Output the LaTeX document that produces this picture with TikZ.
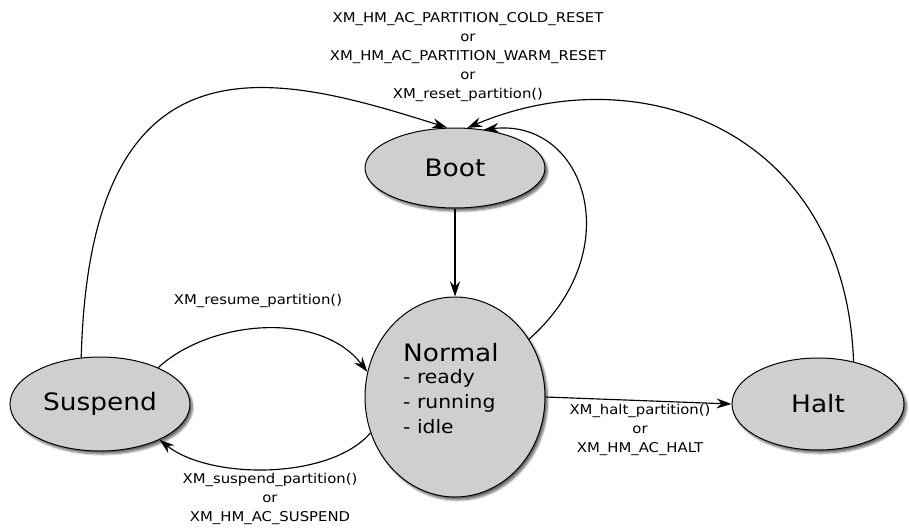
\documentclass[tikz,border=0pt]{standalone}
\usepackage{fontspec}
\setmainfont[FakeStretch=1.1]{DejaVu Sans}
\usetikzlibrary{shapes.geometric,arrows.meta,shadows.blur}
\tikzset{
  state/.style={ellipse, draw=black, line width=1pt, fill=black!19, inner sep=0pt,
    blur shadow={shadow xshift=2.5pt, shadow yshift=-3pt, shadow blur steps=6, shadow opacity=60},
    font=\fontsize{24}{28}\selectfont},
  lbl/.style={align=center, inner sep=0pt, font=\fontsize{13.5}{19}\selectfont},
  conn/.style={line width=1.15pt, -{Stealth[length=15pt,width=10pt,inset=5pt]}}
}
\begin{document}
\begin{tikzpicture}[x=1pt,y=1pt]
\useasboundingbox (0,0) rectangle (909,-530);
\node[state, minimum width=180pt, minimum height=80pt] (boot) at (455,-168) {Boot};
\node[state, minimum width=180pt, minimum height=200pt] (normal) at (455,-397) {};
\node[align=left, inner sep=0pt, anchor=north west, font=\fontsize{18.5}{25}\selectfont] (ntext) at (403,-343)
  {\fontsize{24}{28}\selectfont Normal\\[-3pt]
   \fontsize{18.5}{25}\selectfont - ready\\ - running\\ - idle};
\node[state, minimum width=180pt, minimum height=94pt] (suspend) at (100,-404) {Suspend};
\node[state, minimum width=172pt, minimum height=92pt] (halt) at (818,-404) {Halt};

\node[lbl] (ltop) at (468,-57) {XM\_HM\_AC\_PARTITION\_COLD\_RESET\\or\\XM\_HM\_AC\_PARTITION\_WARM\_RESET\\or\\XM\_reset\_partition()};
\node[lbl] (lres) at (258,-301) {XM\_resume\_partition()};
\node[lbl] (lhalt) at (640,-430) {XM\_halt\_partition()\\or\\XM\_HM\_AC\_HALT};
\node[lbl] (lsus) at (270,-499) {XM\_suspend\_partition()\\or\\XM\_HM\_AC\_SUSPEND};

\draw[conn] (boot.south) -- (normal.north);
\draw[conn] (suspend.112) .. controls (90,-20) and (280,-75) .. (boot.101);
\draw[conn] (halt.50) .. controls (845,-130) and (640,-55) .. (boot.73);
\draw[conn] (normal.38) .. controls (630,-250) and (585,-118) .. (boot.53);
\draw[conn] (suspend.32) .. controls (210,-320) and (320,-310) .. (normal.164);
\draw[conn] (normal.203) .. controls (330,-480) and (210,-480) .. (suspend.329);
\draw[conn] (normal.east) -- (halt.west);
\end{tikzpicture}
\end{document}
